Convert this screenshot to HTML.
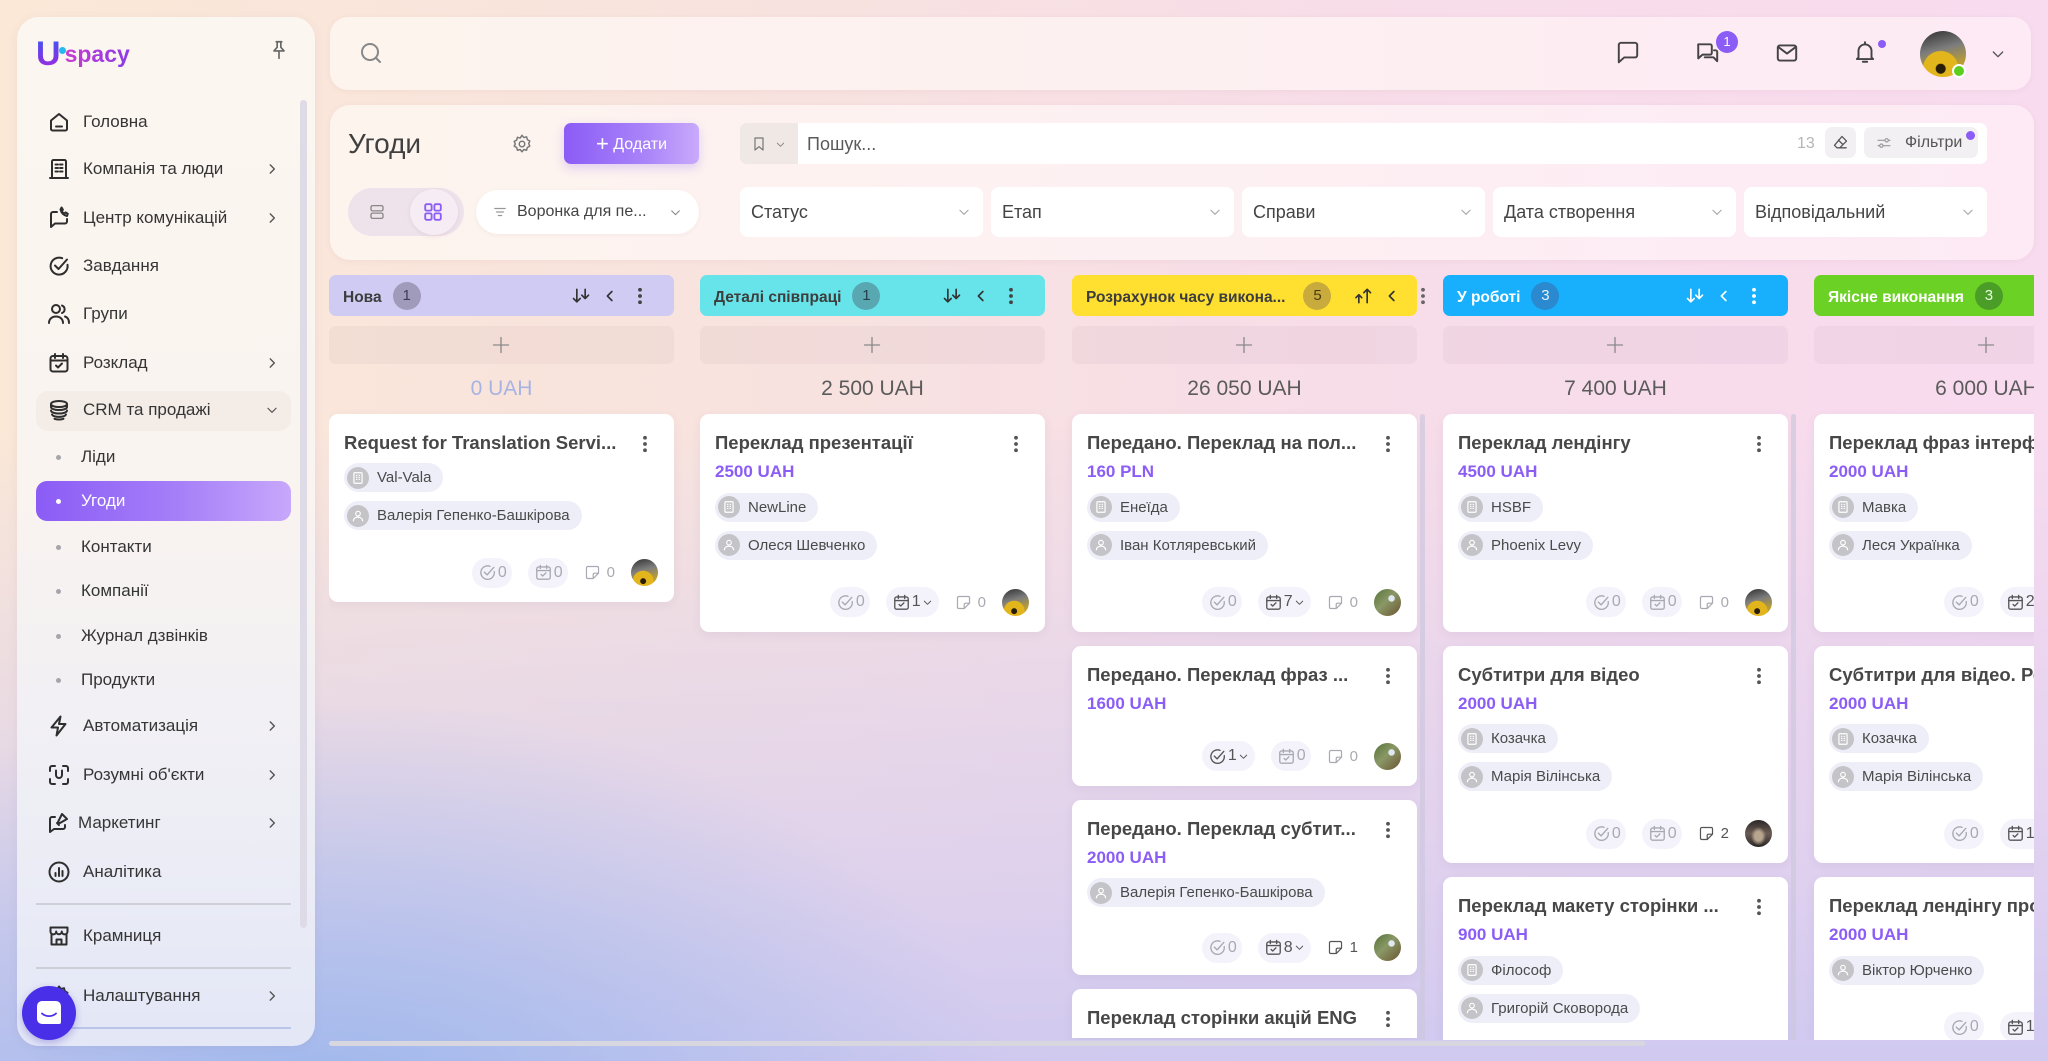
<!DOCTYPE html>
<html><head><meta charset="utf-8">
<style>
*{box-sizing:border-box;margin:0;padding:0}
html,body{width:2048px;height:1061px;overflow:hidden}
body{font-family:"Liberation Sans","DejaVu Sans",sans-serif;color:#3a3a3a}
#wrap{position:relative;width:2048px;height:1061px;overflow:hidden;
background:
 radial-gradient(ellipse 700px 430px at 320px 1130px, rgba(156,183,236,1) 0%, rgba(156,183,236,.55) 45%, rgba(156,183,236,0) 100%),
 linear-gradient(180deg, rgba(214,206,240,0) 0%, rgba(214,206,240,0) 40%, rgba(214,204,240,.72) 82%, rgba(206,200,240,.95) 100%),
 linear-gradient(90deg,#fbe8d7 0%,#f8e3de 35%,#f7dde8 65%,#f8dbef 100%);}
.a{position:absolute}
svg.i{fill:none;stroke:currentColor;stroke-width:2;stroke-linecap:round;stroke-linejoin:round}
.side{position:absolute;left:17px;top:17px;width:298px;height:1029px;border-radius:22px;background:linear-gradient(180deg,#fcf6f1 0%,#faf4f0 45%,#f0eff5 72%,#e3e7f6 100%);box-shadow:0 2px 10px rgba(120,100,140,.08)}
.mi{position:absolute;left:0;width:298px;height:24px;font-size:17px;color:#353535;white-space:nowrap}
.mi .ic{position:absolute;left:30px;top:0;width:24px;height:24px;color:#2e2e2e}
.mi span{position:absolute;left:66px;top:2px;line-height:20px}
.mi .ch{position:absolute;left:248px;top:5px;width:14px;height:14px;color:#555}
.mi.sub span{left:64px}
.mi.sub b{position:absolute;left:39px;top:10px;width:5px;height:5px;border-radius:50%;background:#a5a5ab}
.dv{position:absolute;left:19px;width:255px;height:1.5px;background:#cfcfd8}
.top{position:absolute;left:330px;top:17px;width:1701px;height:73px;border-radius:18px;background:linear-gradient(90deg,#fdf4ed,#fdf0f1 50%,#fdeaf5);box-shadow:0 1px 6px rgba(150,100,120,.07)}
.tb{position:absolute;left:330px;top:105px;width:1704px;height:155px;border-radius:20px;background:linear-gradient(90deg,#fdf4ee,#fdf0f2 50%,#fdeaf5);box-shadow:0 1px 6px rgba(150,100,120,.07)}
.dd{position:absolute;top:187px;height:50px;width:243px;background:#fff;border-radius:8px;font-size:18px;color:#444;padding-left:11px;line-height:50px;white-space:nowrap}
.dd svg{position:absolute;right:12px;top:18px;width:14px;height:14px;color:#aaa}
.board{position:absolute;left:329px;top:275px;width:1705px;height:765px;overflow:hidden}
.col{position:absolute;top:0;width:345px;height:765px}
.hd{position:relative;height:41px;border-radius:7px;font-weight:bold;font-size:15.5px;white-space:nowrap}
.hd .nm{position:absolute;left:14px;top:11px;line-height:20px}
.bg{display:inline-block;width:28px;height:28px;border-radius:50%;text-align:center;line-height:28px;font-weight:normal;font-size:15px;margin-left:11px;vertical-align:middle;margin-top:-4px}
.hd svg{position:absolute;top:11px;width:20px;height:20px}
.add{position:absolute;top:51px;left:0;width:345px;height:38px;border-radius:7px;background:rgba(120,80,100,.05)}
.add svg{position:absolute;left:162px;top:9px;width:20px;height:20px;color:#8a8a8a;stroke-width:1.6}
.amt{position:absolute;top:100px;left:0;width:345px;text-align:center;font-size:21px;line-height:28px;color:#5b5b5b}
.cards{position:absolute;top:139px;left:0;width:345px}
.card{position:relative;width:345px;background:#fff;border-radius:9px;box-shadow:0 3px 10px rgba(90,70,130,.07);padding:18px 16px 11px 15px;margin-bottom:14px}
.t{font-weight:bold;font-size:18.5px;line-height:22px;color:#474747;white-space:nowrap;overflow:hidden;width:285px}
.k{position:absolute;right:19px;top:20px;width:20px;height:20px;color:#555;fill:#555}
.p{font-weight:bold;font-size:17px;line-height:20px;color:#8b5cf6;margin-top:8px}
.c{display:flex;align-items:center;width:max-content;height:29px;border-radius:15px;background:#eeeef9;padding:0 12px 0 3px;font-size:15px;color:#4a4a4a;margin-top:9px;white-space:nowrap}
.p + .c{margin-top:10.5px}
.t + .c{margin-top:0}
.ci{width:22px;height:22px;border-radius:50%;background:#c4c4c8;display:inline-flex;align-items:center;justify-content:center;margin-right:8px;color:#fff}
.ci svg{width:14px;height:14px}
.ft{display:flex;justify-content:flex-end;align-items:center;gap:16px;height:37px;margin-top:24px}
.fc{display:inline-flex;align-items:center;height:30px;padding:0 5px 0 6px;border-radius:15px;background:#f4f3fb;color:#a9a9b2;font-size:16px}
.fc svg{width:19px;height:19px;margin-right:1px;stroke-width:1.7}
.fc.d{color:#555}
.fc .cd{width:11px;height:11px;margin-left:1px;stroke-width:2.2}
.fn{display:inline-flex;align-items:center;color:#a9a9b2;font-size:15px;gap:6px}
.fn svg{width:17px;height:17px;stroke-width:1.7}
.fn.d{color:#555}
.av{width:27px;height:27px;border-radius:50%;display:inline-block}
.a1{background:radial-gradient(circle at 45% 82%,#2a1d08 0 10%,#e3b51c 12% 38%,rgba(0,0,0,0) 40%),linear-gradient(165deg,#2e2e2e 0%,#7d7d7d 40%,#b59a3a 70%,#d4a818 100%)}
.a2{background:radial-gradient(circle at 65% 35%,#dfe8f0 0 12%,rgba(0,0,0,0) 14%),linear-gradient(135deg,#55723a 0%,#8a9866 45%,#6b5432 100%)}
.a3{background:radial-gradient(ellipse at 50% 60%,#b8a58e 0 20%,rgba(0,0,0,0) 40%),linear-gradient(180deg,#2a2626,#6b5d55 50%,#2a2525)}
.sb{position:absolute;top:139px;width:5px;height:626px;background:rgba(205,200,222,.7);border-radius:3px}
</style></head><body>
<div id="wrap">
<svg width="0" height="0" style="position:absolute">
<defs>
<symbol id="chk" viewBox="0 0 24 24"><path d="M20.5 10.8A8.5 8.5 0 1 1 15.2 4.2" fill="none" stroke="currentColor" stroke-linecap="round"/><path d="M8 11.5l3.5 3.5L20 5.5" fill="none" stroke="currentColor" stroke-linecap="round" stroke-linejoin="round"/></symbol>
<symbol id="cal" viewBox="0 0 24 24"><rect x="3.5" y="5" width="17" height="15.5" rx="2.5" fill="none" stroke="currentColor"/><path d="M3.5 9.5h17M8 3v4M16 3v4M9 14.5l2 2 4-4" fill="none" stroke="currentColor" stroke-linecap="round" stroke-linejoin="round"/></symbol>
<symbol id="note" viewBox="0 0 24 24"><path d="M5.5 3.5h13a2 2 0 0 1 2 2V13l-7.5 7.5H5.5a2 2 0 0 1-2-2v-13a2 2 0 0 1 2-2zM20.5 13H15a2 2 0 0 0-2 2v5.5" fill="none" stroke="currentColor" stroke-linejoin="round"/></symbol>
<symbol id="dots" viewBox="0 0 24 24"><circle cx="12" cy="4.5" r="2.3"/><circle cx="12" cy="12" r="2.3"/><circle cx="12" cy="19.5" r="2.3"/></symbol>
<symbol id="sort" viewBox="0 0 24 24"><path d="M7 4v15M3 15l4 4 4-4M17 4v11M13 11l4 4 4-4" fill="none" stroke="currentColor" stroke-width="2" stroke-linecap="round" stroke-linejoin="round"/></symbol>
<symbol id="sortu" viewBox="0 0 24 24"><path d="M7 20v-9M3.5 14l3.5-3.5 3.5 3.5M17 20V4M13 8l4-4 4 4" fill="none" stroke="currentColor" stroke-width="2" stroke-linecap="round" stroke-linejoin="round"/></symbol>
<symbol id="cl" viewBox="0 0 24 24"><path d="M14.5 6l-6 6 6 6" fill="none" stroke="currentColor" stroke-width="2.2" stroke-linecap="round" stroke-linejoin="round"/></symbol>
<symbol id="cr" viewBox="0 0 24 24"><path d="M9 5l7 7-7 7" fill="none" stroke="currentColor" stroke-width="2.4" stroke-linecap="round" stroke-linejoin="round"/></symbol>
<symbol id="cdn" viewBox="0 0 24 24"><path d="M5 9l7 7 7-7" fill="none" stroke="currentColor" stroke-width="2" stroke-linecap="round" stroke-linejoin="round"/></symbol>
<symbol id="plus" viewBox="0 0 24 24"><path d="M12 3v18M3 12h18" fill="none" stroke="currentColor" stroke-linecap="round"/></symbol>
<symbol id="bld" viewBox="0 0 24 24"><rect x="5" y="3" width="14" height="18" rx="1.5" fill="none" stroke="currentColor" stroke-width="2"/><path d="M8.5 7.5h2.5M13 7.5h2.5M8.5 11h2.5M13 11h2.5M8.5 14.5h2.5M13 14.5h2.5" stroke="currentColor" stroke-width="1.8"/></symbol>
<symbol id="usr" viewBox="0 0 24 24"><circle cx="12" cy="8" r="4" fill="none" stroke="currentColor" stroke-width="2"/><path d="M4 21c0-4.5 3.5-7 8-7s8 2.5 8 7" fill="none" stroke="currentColor" stroke-width="2"/></symbol>
</defs></svg>

<!-- SIDEBAR -->
<div class="side">
  <div class="a" style="left:19px;top:22px;height:30px;white-space:nowrap">
    <span style="font-weight:bold;font-size:34px;line-height:30px;background:linear-gradient(180deg,#3a5cf2,#7a36e6 60%,#b02fd6);-webkit-background-clip:text;background-clip:text;color:transparent">U</span><span style="display:inline-block;width:7px;height:7px;border-radius:50%;background:#27b8ee;vertical-align:top;margin:8px 0 0 -2px"></span><span style="font-weight:bold;font-size:23px;line-height:30px;background:linear-gradient(90deg,#c93bd0,#8a3be8);-webkit-background-clip:text;background-clip:text;color:transparent;vertical-align:top;margin-left:-1px">spacy</span>
  </div>
  <svg class="i a" style="left:251px;top:22px;width:22px;height:22px;color:#666;stroke-width:1.8" viewBox="0 0 24 24"><path d="M9 3h6M10 3v6l-3.5 4h11L14 9V3M12 13v8"/></svg>
  <div class="a" style="left:283px;top:83px;width:7px;height:828px;border-radius:4px;background:#dedbe7"></div>

  <div class="mi" style="top:93px"><svg class="ic i" viewBox="0 0 24 24"><path d="M4 10.5 12 4l8 6.5V19a1.5 1.5 0 0 1-1.5 1.5h-13A1.5 1.5 0 0 1 4 19zM9 16.5h6"/></svg><span>Головна</span></div>
  <div class="mi" style="top:140px"><svg class="ic i" viewBox="0 0 24 24"><path d="M3 21h18M5 21V4.5A1.5 1.5 0 0 1 6.5 3h11A1.5 1.5 0 0 1 19 4.5V21M8.5 7.5h2.5M13 7.5h2.5M8.5 11h2.5M13 11h2.5M8.5 14.5h2.5M13 14.5h2.5"/></svg><span>Компанія та люди</span><svg class="ch i" viewBox="0 0 24 24"><use href="#cr"/></svg></div>
  <div class="mi" style="top:189px"><svg class="ic i" viewBox="0 0 24 24"><path d="M4 21V8a2 2 0 0 1 2-2h4M4 21l4-3.5h10a2 2 0 0 0 2-2V13M13.5 3.5c.8 3.4 3 5.6 6.5 6.5l.8-2.3-2.3-1.3-1.2 1.2c-1.1-.6-2-1.5-2.6-2.6l1.2-1.2-1.3-2.3z"/></svg><span>Центр комунікацій</span><svg class="ch i" viewBox="0 0 24 24"><use href="#cr"/></svg></div>
  <div class="mi" style="top:237px"><svg class="ic i" viewBox="0 0 24 24"><path d="M20.5 10.8A8.5 8.5 0 1 1 15.2 4.2M8 11.5l3.5 3.5L20 5.5"/></svg><span>Завдання</span></div>
  <div class="mi" style="top:285px"><svg class="ic i" viewBox="0 0 24 24"><path d="M9 11a4 4 0 1 0 0-8 4 4 0 0 0 0 8zM2 21c0-4 3-6.5 7-6.5s7 2.5 7 6.5M15 3.5a4 4 0 0 1 0 7.5M18 14.5c2.5.8 4 3 4 6.5"/></svg><span>Групи</span></div>
  <div class="mi" style="top:334px"><svg class="ic i" viewBox="0 0 24 24"><rect x="3.5" y="5" width="17" height="15.5" rx="2.5"/><path d="M3.5 9.5h17M8 3v4M16 3v4M9 14.5l2 2 4-4"/></svg><span>Розклад</span><svg class="ch i" viewBox="0 0 24 24"><use href="#cr"/></svg></div>
  <div class="a" style="left:19px;top:374px;width:255px;height:40px;border-radius:12px;background:#f3ece7"></div>
  <div class="mi" style="top:381px"><svg class="ic i" viewBox="0 0 24 24"><path d="M4 6c0-1.7 3.6-3 8-3s8 1.3 8 3-3.6 3-8 3-8-1.3-8-3zM4 6v3c0 1.7 3.6 3 8 3s8-1.3 8-3V6M4 12.5c0 1.7 3.6 3 8 3s8-1.3 8-3M5 16.5c.8 1.4 3.6 2.4 7 2.4s6.2-1 7-2.4M7.5 20.8c1.4.5 2.8.7 4.5.7s3.1-.2 4.5-.7"/></svg><span>CRM та продажі</span><svg class="ch i" viewBox="0 0 24 24"><use href="#cdn"/></svg></div>
  <div class="mi sub" style="top:428px"><b></b><span>Ліди</span></div>
  <div class="a" style="left:19px;top:464px;width:255px;height:40px;border-radius:11px;background:linear-gradient(90deg,#8b5cf6,#a57ef8 55%,#c7a8fb)"></div>
  <div class="mi sub" style="top:472px;color:#fff"><b style="background:#fff"></b><span>Угоди</span></div>
  <div class="mi sub" style="top:518px"><b></b><span>Контакти</span></div>
  <div class="mi sub" style="top:562px"><b></b><span>Компанії</span></div>
  <div class="mi sub" style="top:607px"><b></b><span>Журнал дзвінків</span></div>
  <div class="mi sub" style="top:651px"><b></b><span>Продукти</span></div>
  <div class="mi" style="top:697px"><svg class="ic i" viewBox="0 0 24 24"><path d="M13.5 2.5 4.5 13.5H11l-1.5 8 9-11.5H12z"/></svg><span>Автоматизація</span><svg class="ch i" viewBox="0 0 24 24"><use href="#cr"/></svg></div>
  <div class="mi" style="top:746px"><svg class="ic i" viewBox="0 0 24 24"><path d="M3 8V5a2 2 0 0 1 2-2h3M16 3h3a2 2 0 0 1 2 2v3M21 16v3a2 2 0 0 1-2 2h-3M8 21H5a2 2 0 0 1-2-2v-3M9 7.5v4.5a3 3 0 0 0 6 0V7.5"/></svg><span>Розумні об'єкти</span><svg class="ch i" viewBox="0 0 24 24"><use href="#cr"/></svg></div>
  <div class="mi" style="top:794px"><svg class="ic i" viewBox="0 0 24 24"><path d="M3 21V8a2 2 0 0 1 2-2h3M3 21l4-3h9a2 2 0 0 0 2-2v-2M11 11l4-8 5 5-7 4zM10 12l2 2"/></svg><span style="left:61px">Маркетинг</span><svg class="ch i" viewBox="0 0 24 24"><use href="#cr"/></svg></div>
  <div class="mi" style="top:843px"><svg class="ic i" viewBox="0 0 24 24"><circle cx="12" cy="12" r="9.5"/><path d="M8.5 16v-3M12 16V8M15.5 16v-5"/></svg><span>Аналітика</span></div>
  <div class="dv" style="top:886px"></div>
  <div class="mi" style="top:907px"><svg class="ic i" viewBox="0 0 24 24"><path d="M4.5 10v10.5h15V10M3.5 3.5h17v4a2.8 2.8 0 0 1-5.7 0 2.8 2.8 0 0 1-5.6 0 2.8 2.8 0 0 1-5.7 0zM9.5 20.5v-5h5v5"/></svg><span>Крамниця</span></div>
  <div class="dv" style="top:950px"></div>
  <div class="mi" style="top:967px"><svg class="ic i" viewBox="0 0 24 24"><circle cx="12" cy="12" r="3"/><path d="M12 2.5l2 2.5 3-.8.8 3 2.7 1.5-1.2 2.8 1.2 2.8-2.7 1.5-.8 3-3-.8-2 2.5-2-2.5-3 .8-.8-3-2.7-1.5L4.7 12 3.5 9.2l2.7-1.5.8-3 3 .8z"/></svg><span>Налаштування</span><svg class="ch i" viewBox="0 0 24 24"><use href="#cr"/></svg></div>
  <div class="dv" style="top:1010px;background:#b9c6ea"></div>
</div>
<div class="a" style="left:22px;top:986px;width:54px;height:54px;border-radius:50%;background:#4a2fe8;box-shadow:0 3px 8px rgba(60,40,200,.3)">
  <div class="a" style="left:15px;top:15px;width:24px;height:23px;border-radius:5px 5px 2px 5px;background:#fff"></div>
  <svg class="a" style="left:19px;top:26px;width:16px;height:6px" viewBox="0 0 16 6"><path d="M1 1.5c4 3.5 10 3.5 14 0" fill="none" stroke="#4a2fe8" stroke-width="1.8" stroke-linecap="round"/></svg>
</div>

<!-- TOP BAR -->
<div class="top"></div>
<svg class="i a" style="left:359px;top:41px;width:24px;height:24px;color:#888;stroke-width:2" viewBox="0 0 24 24"><circle cx="11" cy="11" r="8"/><path d="M17 17l4 4"/></svg>
<svg class="i a" style="left:1615px;top:39px;width:26px;height:26px;color:#444;stroke-width:1.8" viewBox="0 0 24 24"><path d="M5.5 3.5h13a2 2 0 0 1 2 2v9.5a2 2 0 0 1-2 2H8.5l-5 4.5V5.5a2 2 0 0 1 2-2z"/></svg>
<svg class="i a" style="left:1695px;top:40px;width:26px;height:26px;color:#444;stroke-width:1.8" viewBox="0 0 24 24"><path d="M3 4h11a1.5 1.5 0 0 1 1.5 1.5V12a1.5 1.5 0 0 1-1.5 1.5H7l-4 3.5V5.5A1.5 1.5 0 0 1 3 4zM9 16h8l3.5 3.5V11a1.5 1.5 0 0 0-1.5-1.5h-1.5"/></svg>
<div class="a" style="left:1716px;top:31px;width:22px;height:22px;border-radius:50%;background:#8b5cf6;color:#fff;font-size:13px;text-align:center;line-height:22px">1</div>
<svg class="i a" style="left:1774px;top:40px;width:26px;height:26px;color:#444;stroke-width:1.8" viewBox="0 0 24 24"><rect x="3.5" y="5" width="17" height="14" rx="2"/><path d="M4 6.5l8 6 8-6"/></svg>
<svg class="i a" style="left:1852px;top:39px;width:26px;height:26px;color:#444;stroke-width:1.8" viewBox="0 0 24 24"><path d="M6 17V11a6 6 0 0 1 12 0v6l1.5 1.5h-15zM10 21h4M12 3v2"/></svg>
<div class="a" style="left:1878px;top:40px;width:8px;height:8px;border-radius:50%;background:#8b5cf6"></div>
<div class="a av a1" style="left:1920px;top:31px;width:46px;height:46px"></div>
<div class="a" style="left:1952px;top:64px;width:14px;height:14px;border-radius:50%;background:#5ccf1e;border:2px solid #fff"></div>
<svg class="i a" style="left:1990px;top:46px;width:16px;height:16px;color:#555" viewBox="0 0 24 24"><use href="#cdn"/></svg>

<!-- TOOLBAR -->
<div class="tb"></div>
<div class="a" style="left:348px;top:127px;font-size:28px;line-height:34px;color:#404040">Угоди</div>
<svg class="i a" style="left:511px;top:133px;width:22px;height:22px;color:#777;stroke-width:1.6" viewBox="0 0 24 24"><circle cx="12" cy="12" r="3"/><path d="M12 2.5l2 2.5 3-.8.8 3 2.7 1.5-1.2 2.8 1.2 2.8-2.7 1.5-.8 3-3-.8-2 2.5-2-2.5-3 .8-.8-3-2.7-1.5L4.7 12 3.5 9.2l2.7-1.5.8-3 3 .8z"/></svg>
<div class="a" style="left:564px;top:123px;width:135px;height:41px;border-radius:7px;background:linear-gradient(90deg,#8b5cf6,#a983f9 60%,#c9aafb);box-shadow:0 4px 10px rgba(139,92,246,.25);color:#fff;font-size:16px;line-height:41px;text-align:center;white-space:nowrap"><span style="font-size:22px;vertical-align:-2px">+</span> Додати</div>
<div class="a" style="left:740px;top:123px;width:58px;height:41px;border-radius:7px 0 0 7px;background:#efe8e4"></div>
<svg class="i a" style="left:751px;top:136px;width:16px;height:16px;color:#777;stroke-width:1.8" viewBox="0 0 24 24"><path d="M6 3h12v18l-6-5-6 5z"/></svg>
<svg class="i a" style="left:775px;top:139px;width:11px;height:11px;color:#888" viewBox="0 0 24 24"><use href="#cdn"/></svg>
<div class="a" style="left:798px;top:123px;width:1189px;height:41px;border-radius:0 7px 7px 0;background:#fff"></div>
<div class="a" style="left:807px;top:133px;font-size:18px;line-height:22px;color:#5a5a5a">Пошук...</div>
<div class="a" style="left:1797px;top:134px;font-size:16px;line-height:20px;color:#b5b5b5">13</div>
<div class="a" style="left:1825px;top:127px;width:31px;height:31px;border-radius:7px;background:#f3f0f3"></div>
<svg class="i a" style="left:1832px;top:134px;width:17px;height:17px;color:#555;stroke-width:1.8" viewBox="0 0 24 24"><path d="M14 3.5l6.5 6.5-9.5 9.5H7L3.5 16zM9 8.5l6.5 6.5M11 19.5h9"/></svg>
<div class="a" style="left:1864px;top:127px;width:114px;height:31px;border-radius:7px;background:#f3f0f3"></div>
<svg class="i a" style="left:1876px;top:135px;width:16px;height:16px;color:#999;stroke-width:1.8" viewBox="0 0 24 24"><path d="M3 8h10M19 8h2M3 16h2M11 16h10"/><circle cx="16" cy="8" r="2.5"/><circle cx="8" cy="16" r="2.5"/></svg>
<div class="a" style="left:1905px;top:133px;font-size:16px;line-height:20px;color:#555">Фільтри</div>
<div class="a" style="left:1966px;top:131px;width:9px;height:9px;border-radius:50%;background:#8b5cf6"></div>

<div class="a" style="left:348px;top:188px;width:116px;height:48px;border-radius:24px;background:#efe3eb"></div>
<svg class="i a" style="left:368px;top:203px;width:18px;height:18px;color:#888;stroke-width:1.8" viewBox="0 0 24 24"><rect x="4" y="3.5" width="16" height="7" rx="2"/><rect x="4" y="13.5" width="16" height="7" rx="2"/></svg>
<div class="a" style="left:410px;top:189px;width:48px;height:46px;border-radius:50%;background:#f6ecf3;box-shadow:0 1px 4px rgba(150,100,140,.15)"></div>
<svg class="i a" style="left:422px;top:201px;width:22px;height:22px;color:#8b5cf6;stroke-width:2" viewBox="0 0 24 24"><rect x="3.5" y="3.5" width="7" height="7" rx="1.5"/><rect x="13.5" y="3.5" width="7" height="7" rx="1.5"/><rect x="3.5" y="13.5" width="7" height="7" rx="1.5"/><rect x="13.5" y="13.5" width="7" height="7" rx="1.5"/></svg>
<div class="a" style="left:476px;top:190px;width:223px;height:44px;border-radius:22px;background:#fff;box-shadow:0 1px 4px rgba(150,100,120,.08)"></div>
<svg class="i a" style="left:493px;top:205px;width:14px;height:14px;color:#999;stroke-width:2" viewBox="0 0 24 24"><path d="M3 6h18M6 12h12M9 18h6"/></svg>
<div class="a" style="left:517px;top:202px;font-size:16px;line-height:20px;color:#444;white-space:nowrap">Воронка для пе...</div>
<svg class="i a" style="left:669px;top:206px;width:13px;height:13px;color:#888" viewBox="0 0 24 24"><use href="#cdn"/></svg>

<div class="dd" style="left:740px">Статус<svg class="i" viewBox="0 0 24 24"><use href="#cdn"/></svg></div>
<div class="dd" style="left:991px">Етап<svg class="i" viewBox="0 0 24 24"><use href="#cdn"/></svg></div>
<div class="dd" style="left:1242px">Справи<svg class="i" viewBox="0 0 24 24"><use href="#cdn"/></svg></div>
<div class="dd" style="left:1493px">Дата створення<svg class="i" viewBox="0 0 24 24"><use href="#cdn"/></svg></div>
<div class="dd" style="left:1744px">Відповідальний<svg class="i" viewBox="0 0 24 24"><use href="#cdn"/></svg></div>

<!-- BOARD -->
<div class="board">
 <div class="col" style="left:0">
  <div class="hd" style="background:#d0cbf2;color:#3d3d3d"><span class="nm">Нова<span class="bg" style="background:#a09bbb;color:#3d3d55">1</span></span>
   <svg class="i" style="left:242px;color:#333"><use href="#sort"/></svg><svg class="i" style="left:272px;color:#333;width:18px;height:18px;top:12px"><use href="#cl"/></svg><svg style="left:301px;color:#444;fill:#444"><use href="#dots"/></svg></div>
  <div class="add"><svg class="i"><use href="#plus"/></svg></div>
  <div class="amt" style="color:#a7b3e3">0 UAH</div>
  <div class="cards">
   <div class="card"><div class="t">Request for Translation Servi...</div><svg class="k"><use href="#dots"/></svg>
    <div class="c"><span class="ci"><svg><use href="#bld"/></svg></span>Val-Vala</div>
    <div class="c"><span class="ci"><svg><use href="#usr"/></svg></span>Валерія Гепенко-Башкірова</div>
    <div class="ft"><span class="fc"><svg><use href="#chk"/></svg>0</span><span class="fc"><svg><use href="#cal"/></svg>0</span><span class="fn"><svg><use href="#note"/></svg>0</span><span class="av a1"></span></div>
   </div>
  </div>
 </div>
 <div class="col" style="left:371px">
  <div class="hd" style="background:#67e3ea;color:#3d3d3d"><span class="nm">Деталі співпраці<span class="bg" style="background:#58a7b1;color:#22404a">1</span></span>
   <svg class="i" style="left:242px;color:#333"><use href="#sort"/></svg><svg class="i" style="left:272px;color:#333;width:18px;height:18px;top:12px"><use href="#cl"/></svg><svg style="left:301px;color:#444;fill:#444"><use href="#dots"/></svg></div>
  <div class="add"><svg class="i"><use href="#plus"/></svg></div>
  <div class="amt">2 500 UAH</div>
  <div class="cards">
   <div class="card"><div class="t">Переклад презентації</div><svg class="k"><use href="#dots"/></svg>
    <div class="p">2500 UAH</div>
    <div class="c"><span class="ci"><svg><use href="#bld"/></svg></span>NewLine</div>
    <div class="c"><span class="ci"><svg><use href="#usr"/></svg></span>Олеся Шевченко</div>
    <div class="ft"><span class="fc"><svg><use href="#chk"/></svg>0</span><span class="fc d"><svg><use href="#cal"/></svg>1<svg class="cd"><use href="#cdn"/></svg></span><span class="fn"><svg><use href="#note"/></svg>0</span><span class="av a1"></span></div>
   </div>
  </div>
 </div>
 <div class="col" style="left:743px">
  <div class="hd" style="background:#ffdf30;color:#3d3d3d"><span class="nm">Розрахунок часу викона...<span class="bg" style="background:#c8ab3c;color:#4a3d10;margin-left:18px">5</span></span>
   <svg class="i" style="left:281px;color:#333"><use href="#sortu"/></svg><svg class="i" style="left:311px;color:#333;width:18px;height:18px;top:12px"><use href="#cl"/></svg><svg style="left:341px;color:#666;fill:#666"><use href="#dots"/></svg></div>
  <div class="add"><svg class="i"><use href="#plus"/></svg></div>
  <div class="amt">26 050 UAH</div>
  <div class="cards">
   <div class="card"><div class="t">Передано. Переклад на пол...</div><svg class="k"><use href="#dots"/></svg>
    <div class="p">160 PLN</div>
    <div class="c"><span class="ci"><svg><use href="#bld"/></svg></span>Енеїда</div>
    <div class="c"><span class="ci"><svg><use href="#usr"/></svg></span>Іван Котляревський</div>
    <div class="ft"><span class="fc"><svg><use href="#chk"/></svg>0</span><span class="fc d"><svg><use href="#cal"/></svg>7<svg class="cd"><use href="#cdn"/></svg></span><span class="fn"><svg><use href="#note"/></svg>0</span><span class="av a2"></span></div>
   </div>
   <div class="card"><div class="t">Передано. Переклад фраз ...</div><svg class="k"><use href="#dots"/></svg>
    <div class="p">1600 UAH</div>
    <div class="ft"><span class="fc d"><svg><use href="#chk"/></svg>1<svg class="cd"><use href="#cdn"/></svg></span><span class="fc"><svg><use href="#cal"/></svg>0</span><span class="fn"><svg><use href="#note"/></svg>0</span><span class="av a2"></span></div>
   </div>
   <div class="card" style="padding-bottom:9px"><div class="t">Передано. Переклад субтит...</div><svg class="k"><use href="#dots"/></svg>
    <div class="p">2000 UAH</div>
    <div class="c"><span class="ci"><svg><use href="#usr"/></svg></span>Валерія Гепенко-Башкірова</div>
    <div class="ft" style="margin-top:22px"><span class="fc"><svg><use href="#chk"/></svg>0</span><span class="fc d"><svg><use href="#cal"/></svg>8<svg class="cd"><use href="#cdn"/></svg></span><span class="fn d"><svg><use href="#note"/></svg>1</span><span class="av a2"></span></div>
   </div>
   <div class="card" style="height:49px;overflow:hidden;margin-bottom:0;border-radius:9px 9px 0 0"><div class="t">Переклад сторінки акцій ENG</div><svg class="k"><use href="#dots"/></svg></div>
  </div>
  <div class="sb" style="left:348px"></div>
 </div>
 <div class="col" style="left:1114px">
  <div class="hd" style="background:#18b0fc;color:#fff"><span class="nm">У роботі<span class="bg" style="background:#2a89cf;color:#e6f2ff">3</span></span>
   <svg class="i" style="left:242px;color:#fff"><use href="#sort"/></svg><svg class="i" style="left:272px;color:#fff;width:18px;height:18px;top:12px"><use href="#cl"/></svg><svg style="left:301px;color:#fff;fill:#fff"><use href="#dots"/></svg></div>
  <div class="add"><svg class="i"><use href="#plus"/></svg></div>
  <div class="amt">7 400 UAH</div>
  <div class="cards">
   <div class="card"><div class="t">Переклад лендінгу</div><svg class="k"><use href="#dots"/></svg>
    <div class="p">4500 UAH</div>
    <div class="c"><span class="ci"><svg><use href="#bld"/></svg></span>HSBF</div>
    <div class="c"><span class="ci"><svg><use href="#usr"/></svg></span>Phoenix Levy</div>
    <div class="ft"><span class="fc"><svg><use href="#chk"/></svg>0</span><span class="fc"><svg><use href="#cal"/></svg>0</span><span class="fn"><svg><use href="#note"/></svg>0</span><span class="av a1"></span></div>
   </div>
   <div class="card"><div class="t">Субтитри для відео</div><svg class="k"><use href="#dots"/></svg>
    <div class="p">2000 UAH</div>
    <div class="c"><span class="ci"><svg><use href="#bld"/></svg></span>Козачка</div>
    <div class="c"><span class="ci"><svg><use href="#usr"/></svg></span>Марія Вілінська</div>
    <div class="ft"><span class="fc"><svg><use href="#chk"/></svg>0</span><span class="fc"><svg><use href="#cal"/></svg>0</span><span class="fn d"><svg><use href="#note"/></svg>2</span><span class="av a3"></span></div>
   </div>
   <div class="card" style="height:164px;overflow:hidden;margin-bottom:0;border-radius:9px 9px 0 0"><div class="t">Переклад макету сторінки ...</div><svg class="k"><use href="#dots"/></svg>
    <div class="p">900 UAH</div>
    <div class="c"><span class="ci"><svg><use href="#bld"/></svg></span>Філософ</div>
    <div class="c"><span class="ci"><svg><use href="#usr"/></svg></span>Григорій Сковорода</div>
   </div>
  </div>
  <div class="sb" style="left:348px"></div>
 </div>
 <div class="col" style="left:1485px">
  <div class="hd" style="background:#6bd124;color:#fff"><span class="nm">Якісне виконання<span class="bg" style="background:#4a9e27;color:#eaffe0">3</span></span>
   <svg class="i" style="left:242px;color:#fff"><use href="#sort"/></svg><svg class="i" style="left:272px;color:#fff;width:18px;height:18px;top:12px"><use href="#cl"/></svg><svg style="left:301px;color:#fff;fill:#fff"><use href="#dots"/></svg></div>
  <div class="add"><svg class="i"><use href="#plus"/></svg></div>
  <div class="amt">6 000 UAH</div>
  <div class="cards">
   <div class="card"><div class="t">Переклад фраз інтерфейсу...</div><svg class="k"><use href="#dots"/></svg>
    <div class="p">2000 UAH</div>
    <div class="c"><span class="ci"><svg><use href="#bld"/></svg></span>Мавка</div>
    <div class="c"><span class="ci"><svg><use href="#usr"/></svg></span>Леся Українка</div>
    <div class="ft"><span class="fc"><svg><use href="#chk"/></svg>0</span><span class="fc d"><svg><use href="#cal"/></svg>2<svg class="cd"><use href="#cdn"/></svg></span><span class="fn"><svg><use href="#note"/></svg>0</span><span class="av a1"></span></div>
   </div>
   <div class="card"><div class="t">Субтитри для відео. Редаг...</div><svg class="k"><use href="#dots"/></svg>
    <div class="p">2000 UAH</div>
    <div class="c"><span class="ci"><svg><use href="#bld"/></svg></span>Козачка</div>
    <div class="c"><span class="ci"><svg><use href="#usr"/></svg></span>Марія Вілінська</div>
    <div class="ft"><span class="fc"><svg><use href="#chk"/></svg>0</span><span class="fc d"><svg><use href="#cal"/></svg>1<svg class="cd"><use href="#cdn"/></svg></span><span class="fn"><svg><use href="#note"/></svg>0</span><span class="av a3"></span></div>
   </div>
   <div class="card" style="margin-bottom:0"><div class="t">Переклад лендінгу промо...</div><svg class="k"><use href="#dots"/></svg>
    <div class="p">2000 UAH</div>
    <div class="c"><span class="ci"><svg><use href="#usr"/></svg></span>Віктор Юрченко</div>
    <div class="ft"><span class="fc"><svg><use href="#chk"/></svg>0</span><span class="fc d"><svg><use href="#cal"/></svg>1<svg class="cd"><use href="#cdn"/></svg></span><span class="fn"><svg><use href="#note"/></svg>0</span><span class="av a1"></span></div>
   </div>
  </div>
 </div>
</div>
<div class="a" style="left:329px;top:1041px;width:1316px;height:5px;border-radius:3px;background:#d8d6de"></div>
</div>
</body></html>
